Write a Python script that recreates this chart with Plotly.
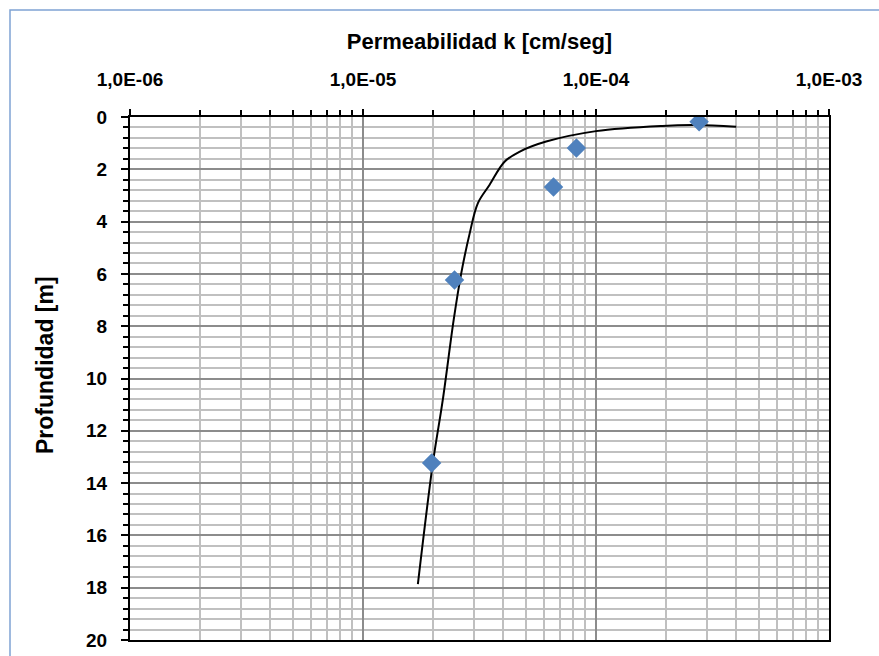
import plotly.graph_objects as go

# Measured points
k_points = [2.77e-4, 8.24e-5, 6.57e-5, 2.47e-5, 1.97e-5]
depth_points = [0.18, 1.19, 2.68, 6.23, 13.23]

# Trend curve
k_curve = [1.72e-5, 1.995e-5, 2.2e-5, 2.45e-5, 2.64e-5, 2.87e-5, 3.11e-5, 3.49e-5,
           4.05e-5, 4.69e-5, 6.11e-5, 1.0e-4, 1.93e-4, 2.69e-4, 4.0e-4]
depth_curve = [17.86, 13.23, 10.82, 7.76, 5.98, 4.45, 3.30, 2.60,
               1.71, 1.33, 0.94, 0.54, 0.34, 0.31, 0.37]

x_tickvals = [1e-6, 1e-5, 1e-4, 1e-3]
x_ticktext = ["1,0E-06", "1,0E-05", "1,0E-04", "1,0E-03"]
x_minor = [m * 10.0 ** e for e in (-6, -5, -4) for m in range(2, 10)]

y_tickvals = list(range(0, 21, 2))
y_minor = [round(v * 0.4, 1) for v in range(0, 51)]

FONT = "Liberation Sans"

fig = go.Figure()
fig.add_trace(go.Scatter(
    x=k_curve, y=depth_curve, mode="lines",
    line=dict(color="black", width=2, shape="spline", smoothing=1.0),
    showlegend=False, hoverinfo="skip"))
fig.add_trace(go.Scatter(
    x=k_points, y=depth_points, mode="markers",
    marker=dict(symbol="diamond", size=15, color="#4F81BD",
                line=dict(color="#4F81BD", width=0)),
    showlegend=False))

fig.update_layout(
    width=879, height=656,
    margin=dict(l=130, r=50, t=117, b=16),
    paper_bgcolor="white", plot_bgcolor="white",
    font=dict(family=FONT, color="black"),
    xaxis=dict(
        type="log", side="top", range=[-6, -3], automargin=False,
        tickmode="array", tickvals=x_tickvals, ticktext=x_ticktext,
        tickfont=dict(family=FONT, size=19, color="black", weight="bold"),
        ticks="outside", ticklen=6, tickwidth=2, tickcolor="black",
        ticklabelstandoff=15,
        showgrid=True, gridcolor="#8C8C8C", gridwidth=1.5,
        minor=dict(tickmode="array", tickvals=x_minor, ticks="outside",
                   ticklen=5, tickwidth=1.5, tickcolor="black",
                   showgrid=True, gridcolor="#C0C0C0", gridwidth=1.5),
        showline=True, linecolor="black", linewidth=2, mirror=True,
        title=dict(text="Permeabilidad k [cm/seg]",
                   font=dict(family=FONT, size=22, color="black", weight="bold"),
                   standoff=14),
        zeroline=False),
    yaxis=dict(
        range=[20, 0], automargin=False,
        tickmode="array", tickvals=y_tickvals,
        tickfont=dict(family=FONT, size=19, color="black", weight="bold"),
        ticks="outside", ticklen=7, tickwidth=2, tickcolor="black",
        ticklabelstandoff=10,
        showgrid=True, gridcolor="#8C8C8C", gridwidth=1.5,
        minor=dict(tickmode="array", tickvals=y_minor, ticks="outside",
                   ticklen=5, tickwidth=1.5, tickcolor="black",
                   showgrid=True, gridcolor="#C0C0C0", gridwidth=1.5),
        showline=True, linecolor="black", linewidth=2, mirror=True,
        zeroline=False),
    annotations=[dict(
        text="Profundidad [m]", textangle=-90, showarrow=False,
        xref="paper", yref="paper",
        x=(45 - 130) / 699, y=(640 - 365) / 523,
        xanchor="center", yanchor="middle",
        font=dict(family=FONT, size=23, color="black", weight="bold"))],
)

# Outer chart frame (light blue), cropped at right and bottom
fig.add_shape(type="rect", xref="paper", yref="paper",
              x0=(10 - 130) / 699, x1=1.3, y0=-0.2, y1=(640 - 10) / 523,
              line=dict(color="#7FA3D3", width=1.5), layer="below")

fig.write_html("out.html")
